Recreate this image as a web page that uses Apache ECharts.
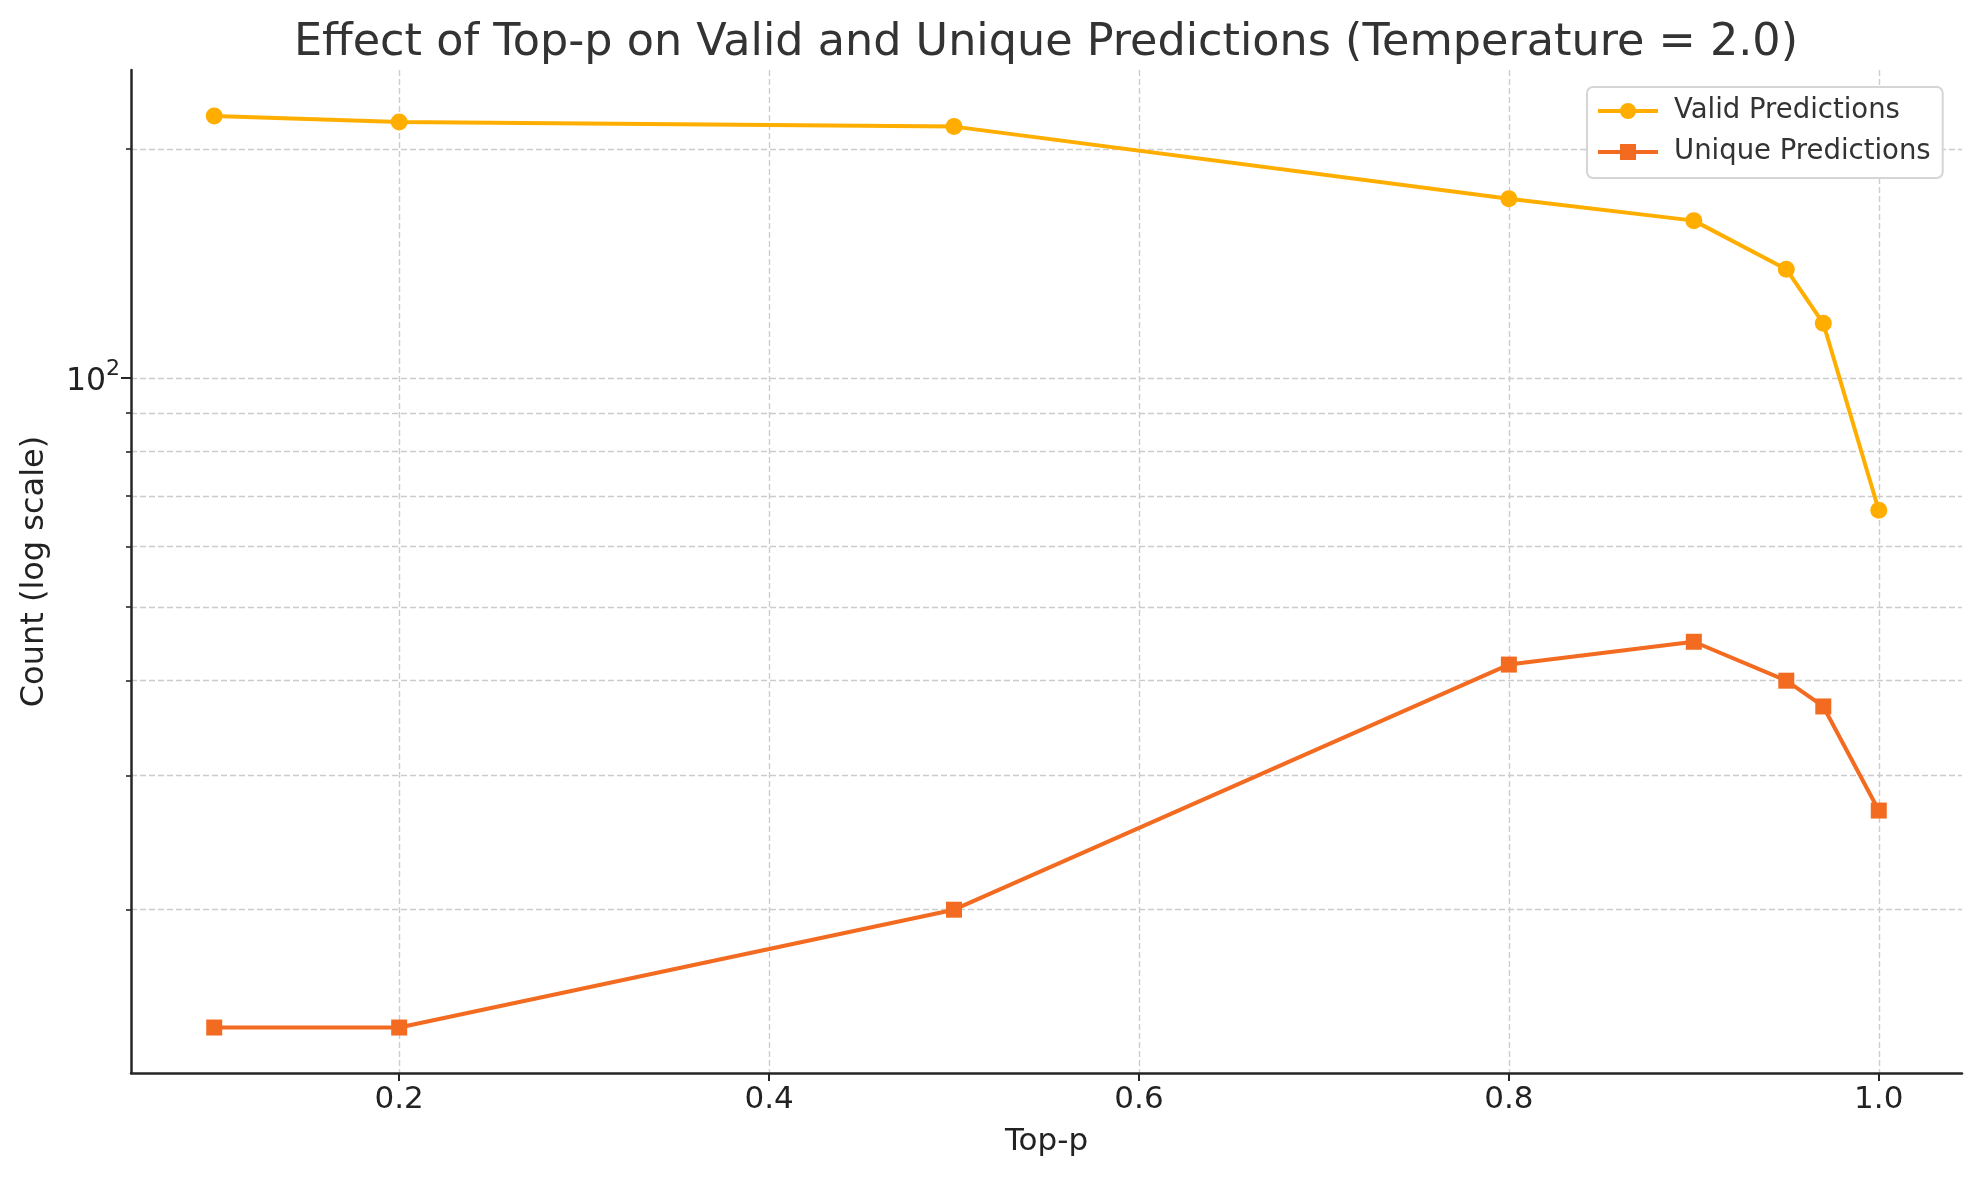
<!DOCTYPE html>
<html><head><meta charset="utf-8">
<script src="https://cdn.jsdelivr.net/npm/echarts@6/dist/echarts.min.js"></script>
<style>html,body{margin:0;padding:0;background:#fff}#c{width:1979px;height:1180px}</style>
</head><body><div id="c"></div>
<script>
const topP = [0.1, 0.2, 0.5, 0.8, 0.9, 0.95, 0.97, 1.0];
const validPredictions = [221, 217, 214, 172, 161, 139, 118, 67];
const uniquePredictions = [14, 14, 20, 42, 45, 40, 37, 27];
const xTicks = [0.2, 0.4, 0.6, 0.8, 1.0];
const yMajorTicks = [100];
const yGridTicks = [20, 30, 40, 50, 60, 70, 80, 90, 100, 200];

const FONT = 'DejaVu Sans';
const AXIS_COLOR = '#262626';
const gridLine = { show: true, lineStyle: { color: '#cccccc', width: 1.4, type: [6, 3] } };

const chart = echarts.init(document.getElementById('c'), null, { renderer: 'canvas' });
chart.setOption({
  animation: false,
  backgroundColor: '#ffffff',
  textStyle: { fontFamily: FONT },
  title: {
    text: 'Effect of Top-p on Valid and Unique Predictions (Temperature = 2.0)',
    left: 1046, textAlign: 'center', top: 21, padding: 0,
    textStyle: { fontFamily: FONT, fontSize: 44.5, fontWeight: 'normal', color: '#333333' }
  },
  legend: {
    orient: 'vertical', left: 1587, top: 87,
    padding: [10, 12, 12, 9],
    itemWidth: 60, itemHeight: 20, itemGap: 13,
    borderColor: '#d5d5d5', borderWidth: 2, borderRadius: 6, backgroundColor: '#ffffff',
    lineStyle: { width: 4 },
    textStyle: { fontFamily: FONT, fontSize: 27.5, color: '#333333', lineHeight: 28, padding: [0, 0, 0, 11] },
    data: ['Valid Predictions', 'Unique Predictions']
  },
  grid: { left: 131, right: 17, top: 70, bottom: 107 },
  xAxis: {
    type: 'value', min: 0.055, max: 1.045,
    name: 'Top-p', nameLocation: 'middle', nameGap: 53,
    nameTextStyle: { fontFamily: FONT, fontSize: 31, color: '#222222' },
    axisLine: { show: true, onZero: false, lineStyle: { color: AXIS_COLOR, width: 2.5 } },
    axisTick: { show: true, customValues: xTicks, length: 8, lineStyle: { color: AXIS_COLOR, width: 2 } },
    axisLabel: { customValues: xTicks, margin: 11, fontFamily: FONT, fontSize: 31, color: '#222222',
      formatter: v => v.toFixed(1) },
    splitLine: gridLine
  },
  yAxis: [{
    type: 'log', logBase: 10, min: 12.2, max: 254,
    name: 'Count (log scale)', nameLocation: 'middle', nameGap: 80, nameRotate: 90,
    nameTextStyle: { fontFamily: FONT, fontSize: 32, color: '#222222' },
    axisLine: { show: true, onZero: false, lineStyle: { color: AXIS_COLOR, width: 2.5 } },
    axisTick: { show: true, customValues: yGridTicks, length: 5, lineStyle: { color: AXIS_COLOR, width: 1.6 } },
    axisLabel: { show: false },
    splitLine: gridLine
  }, {
    type: 'log', logBase: 10, min: 12.2, max: 254, position: 'left',
    axisLine: { show: false },
    axisTick: { show: true, customValues: yMajorTicks, length: 10, lineStyle: { color: AXIS_COLOR, width: 2 } },
    axisLabel: { customValues: yMajorTicks, margin: 11, color: '#222222',
      formatter: v => '{b|10}{s|2}',
      rich: {
        b: { fontFamily: FONT, fontSize: 31.5, lineHeight: 40, color: '#222222', verticalAlign: 'bottom' },
        s: { fontFamily: FONT, fontSize: 22, lineHeight: 22, color: '#222222', verticalAlign: 'top' }
      } },
    splitLine: { show: false }
  }],
  series: [{
    name: 'Valid Predictions', type: 'line', yAxisIndex: 0,
    data: topP.map((x, i) => [x, validPredictions[i]]),
    symbol: 'circle', symbolSize: 17, showSymbol: true,
    itemStyle: { color: '#FFAE00' },
    lineStyle: { color: '#FFAE00', width: 4 }, z: 3
  }, {
    name: 'Unique Predictions', type: 'line', yAxisIndex: 0,
    data: topP.map((x, i) => [x, uniquePredictions[i]]),
    symbol: 'rect', symbolSize: 16, showSymbol: true,
    itemStyle: { color: '#F26B21' },
    lineStyle: { color: '#F26B21', width: 4 }, z: 4
  }]
});
</script></body></html>
